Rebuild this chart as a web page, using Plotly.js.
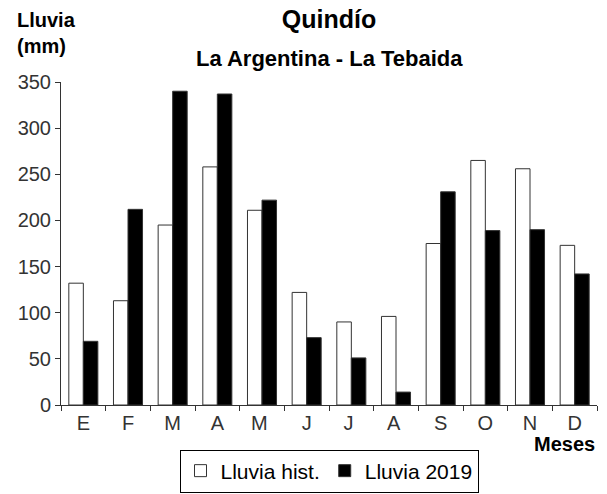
<!DOCTYPE html>
<html>
<head>
<meta charset="utf-8">
<script src="https://cdn.plot.ly/plotly-3.0.1.min.js"></script>
<style>html,body{margin:0;padding:0;background:#fff;}#chart{width:607px;height:494px;}</style>
</head>
<body>
<div id="chart"></div>
<script>
const meses = ["E","F","M","A","M ","J","J ","A ","S","O","N","D"];
const lluviaHist = [132, 113, 195, 258, 211, 122, 90, 96, 175, 265, 256, 173];
const lluvia2019 = [69, 212, 340, 337, 222, 73, 51, 14, 231, 189, 190, 142];

const FONT = "Liberation Sans, Arial, sans-serif";

const traces = [
  {type: "bar", name: "Lluvia hist.", x: meses, y: lluviaHist,
   marker: {color: "#ffffff", line: {color: "#333333", width: 1}}, hoverinfo: "y"},
  {type: "bar", name: "Lluvia 2019", x: meses, y: lluvia2019,
   marker: {color: "#000000", line: {color: "#333333", width: 1}}, hoverinfo: "y"}
];

const layout = {
  width: 607, height: 494,
  margin: {l: 61, r: 10, t: 82, b: 89, autoexpand: false},
  paper_bgcolor: "#ffffff", plot_bgcolor: "#ffffff",
  font: {family: FONT, size: 20, color: "#222222"},
  barmode: "group", bargap: 0.35, bargroupgap: 0,
  showlegend: true,
  title: {text: "<b>Quindío</b>", x: 0.5, xref: "paper", xanchor: "center", y: 1 - 19/494, yanchor: "middle",
          yref: "container", font: {family: FONT, size: 25, color: "#000"}},
  xaxis: {
    type: "category", showline: true, linecolor: "#333", linewidth: 1,
    ticks: "outside", ticklen: 5, tickcolor: "#333", tickson: "boundaries",
    showgrid: false, zeroline: false, tickfont: {size: 20, color: "#333"}
  },
  yaxis: {
    range: [0, 350], showline: true, linecolor: "#333", linewidth: 1,
    ticks: "outside", ticklen: 5, tickcolor: "#333", dtick: 50, ticklabelstandoff: 0,
    showgrid: false, zeroline: false, tickfont: {size: 20, color: "#333"}
  },
  legend: {
    orientation: "h", x: 0.5, xanchor: "center", y: -(471 - 405) / 323, yanchor: "middle",
    bordercolor: "#000", borderwidth: 1, font: {size: 21, color: "#000"},
    itemwidth: 30, tracegroupgap: 0
  },
  annotations: [
    {text: "<b>La Argentina - La Tebaida</b>", xref: "paper", yref: "paper",
     x: 0.5, y: (405 - 58) / 323, xanchor: "center", yanchor: "middle", showarrow: false,
     font: {size: 22, color: "#000"}},
    {text: "<b>Lluvia<br>(mm)</b>", xref: "paper", yref: "paper", align: "left",
     x: (15 - 61) / 536, y: (405 - 7) / 323, xanchor: "left", yanchor: "top", showarrow: false,
     font: {size: 20, color: "#000"}},
    {text: "<b>Meses</b>", xref: "paper", yref: "paper",
     x: 1.0, y: -(444 - 405) / 323, xanchor: "right", yanchor: "middle", showarrow: false,
     font: {size: 20, color: "#000"}}
  ]
};

Plotly.newPlot("chart", traces, layout, {displayModeBar: false, staticPlot: true});
</script>
</body>
</html>
